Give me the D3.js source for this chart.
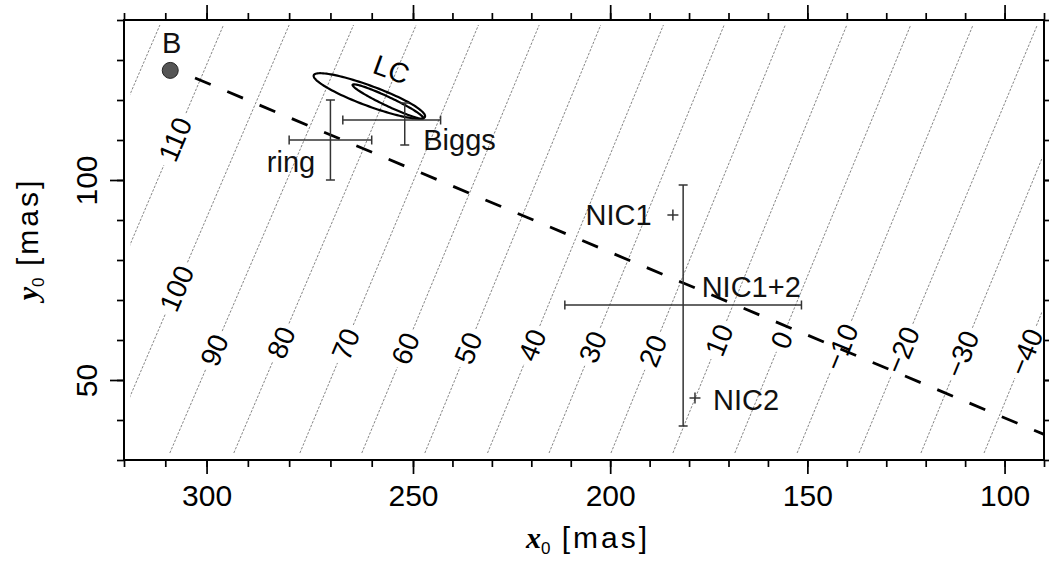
<!DOCTYPE html>
<html><head><meta charset="utf-8">
<script src="https://cdn.jsdelivr.net/npm/d3@7"></script>
<style>
html,body{margin:0;padding:0;background:#fff;}
svg{display:block;}
</style></head>
<body><svg id="c" width="1049" height="562"></svg>
<script>
// ---------------- data ----------------
const xTickLabels = [300, 250, 200, 150, 100];
const yTickLabels = [100, 50];
const xMinorTicks = d3.range(90, 321, 10);
const yMinorTicks = d3.range(30, 141, 10);

// contour lines: x0 where each crosses y0 = contourLowY0 and y0 = contourHighY0
const contourLevels  = [120, 110, 100, 90, 80, 70, 60, 50, 40, 30, 20, 10, 0, -10, -20, -30, -40];
const contourLowY0   = 31.75;
const contourHighY0  = 138.75;
const contourLowX0   = [356.0, 340.0, 324.4, 308.9, 293.4, 277.4, 262.4, 247.0, 231.1, 215.5, 199.8, 184.1, 168.4, 152.6, 136.9, 121.2, 105.2];
const contourHighX0  = [311.3, 295.9, 280.0, 264.4, 249.2, 233.4, 218.0, 202.4, 186.5, 171.1, 155.6, 140.0, 123.8, 108.0, 91.7, 76.6, 60.6];
const contourGridX0  = [318.5, 90.5];
const contourGridY0  = [31.25, 138.75];
// contour labels (level, y0 of label centre)
const labelLevels = [110, 100, 90, 80, 70, 60, 50, 40, 30, 20, 10, 0, -10, -20, -30, -40];
const labelY0     = [110.2, 72.9, 57.5, 59.4, 59.0, 57.9, 58.0, 58.75, 58.3, 57.3, 60.0, 60.0, 58.25, 57.5, 56.5, 57.0];

// dashed line
const dashX0 = [302.8, 90];
const dashY0 = [125.5, 36.4];

// point B
const pointB = [308.8, 127.4];

// LC ellipses: centre, semi axes (mas), angle (deg)
const ellCx = [260.5, 256.0];
const ellCy = [121.0, 119.6];
const ellA  = [14.5, 9.6];
const ellB  = [2.5, 1.1];
const ellAng = [21, 26];

// error-bar crosses: ring, Biggs, NIC1+2
const errX   = [270, 252, 181.5];
const errXlo = [260, 243, 151.5];
const errXhi = [280, 267, 211.5];
const errY   = [110, 115, 68.75];
const errYlo = [100, 108.75, 38.5];
const errYhi = [120, 119.25, 98.75];

// plus markers NIC1, NIC2
const plusX0 = [184.1, 178.5];
const plusY0 = [91.25, 45.5];

// annotations
const annoText   = ["B", "ring", "Biggs", "NIC1", "NIC1+2", "NIC2"];
const annoX0     = [308.45, 273.7, 247.4, 189.5, 176.8, 173.9];
const annoY0     = [131.7, 102.1, 107.5, 88.75, 70.8, 42.5];
const annoAnchor = ["middle", "end", "start", "end", "start", "start"];
const lcLabel = ["LC", 255.2, 127.7, 20];

// ---------------- drawing ----------------
const FONT = "'Liberation Sans', Arial, Helvetica, sans-serif";
const svg = d3.select("#c");
svg.append("rect").attr("width",1049).attr("height",562).attr("fill","#fff");

const x = d3.scaleLinear().domain([320, 250, 90]).range([124, 413, 1044]);
const y = d3.scaleLinear().domain([30, 140]).range([460, 20]);

// clip for contours
svg.append("clipPath").attr("id","cclip").append("rect")
  .attr("x", x(contourGridX0[0])).attr("y", y(contourGridY0[1]))
  .attr("width", x(contourGridX0[1]) - x(contourGridX0[0]))
  .attr("height", y(contourGridY0[0]) - y(contourGridY0[1]));

const gC = svg.append("g").attr("clip-path","url(#cclip)");
const gL = svg.append("g");

contourLevels.forEach((lev, i) => {
  const p0 = [x(contourLowX0[i]), y(contourLowY0)];
  const p1 = [x(contourHighX0[i]), y(contourHighY0)];
  const dx = p1[0]-p0[0], dy = p1[1]-p0[1];
  const len = Math.hypot(dx, dy);
  const ux = dx/len, uy = dy/len;
  const li = labelLevels.indexOf(lev);
  let segs = [[p0, p1]];
  if (li >= 0) {
    const py = y(labelY0[li]);
    const t = (py - p0[1]) / dy;
    const cx = p0[0] + t*dx, cy = py;
    const txt = String(lev).replace("-", "\u2212");
    const tl = txt.length * 0.556 * 28;
    const g = tl/2 + 5;
    segs = [[p0, [cx - ux*g, cy - uy*g]], [[cx + ux*g, cy + uy*g], p1]];
    const ang = Math.atan2(dy, dx) * 180 / Math.PI;
    gL.append("text")
      .attr("transform", `translate(${cx},${cy}) rotate(${ang})`)
      .attr("text-anchor","middle").attr("dy","0.36em")
      .attr("font-family", FONT).attr("font-size", 28).attr("fill","#000")
      .text(txt);
  }
  segs.forEach(s => {
    gC.append("line")
      .attr("x1", s[0][0]).attr("y1", s[0][1]).attr("x2", s[1][0]).attr("y2", s[1][1])
      .attr("stroke", "#777").attr("stroke-width", 0.9).attr("stroke-dasharray", "2.5,1.5");
  });
});

// dashed line
svg.append("line")
  .attr("x1", x(dashX0[0])).attr("y1", y(dashY0[0]))
  .attr("x2", x(dashX0[1])).attr("y2", y(dashY0[1]))
  .attr("stroke","#000").attr("stroke-width",2.8).attr("stroke-dasharray","17,18");

// ellipses
ellCx.forEach((cx, i) => {
  const th = ellAng[i] * Math.PI/180;
  const pts = d3.range(0, 361, 3).map(d => {
    const t = d*Math.PI/180;
    const u = ellA[i]*Math.cos(t), v = ellB[i]*Math.sin(t);
    return [x(cx + u*Math.cos(th) - v*Math.sin(th)), y(ellCy[i] + u*Math.sin(th) + v*Math.cos(th))];
  });
  svg.append("path").attr("d", d3.line()(pts) + "Z")
    .attr("fill","none").attr("stroke","#000").attr("stroke-width",2.2);
});

// error bars
const gE = svg.append("g").attr("stroke","#333").attr("stroke-width",1.5).attr("fill","none");
const cap = 4.5;
errX.forEach((ex, i) => {
  const cx = x(ex), cy = y(errY[i]);
  const xl = x(errXlo[i]), xh = x(errXhi[i]), yl = y(errYlo[i]), yh = y(errYhi[i]);
  gE.append("line").attr("x1",xl).attr("x2",xh).attr("y1",cy).attr("y2",cy);
  gE.append("line").attr("x1",cx).attr("x2",cx).attr("y1",yl).attr("y2",yh);
  [xl, xh].forEach(v => gE.append("line").attr("x1",v).attr("x2",v).attr("y1",cy-cap).attr("y2",cy+cap));
  [yl, yh].forEach(v => gE.append("line").attr("x1",cx-cap).attr("x2",cx+cap).attr("y1",v).attr("y2",v));
});
plusX0.forEach((px, i) => {
  const cx = x(px), cy = y(plusY0[i]), h = 5.5;
  gE.append("line").attr("x1",cx-h).attr("x2",cx+h).attr("y1",cy).attr("y2",cy);
  gE.append("line").attr("x1",cx).attr("x2",cx).attr("y1",cy-h).attr("y2",cy+h);
});

// point B
svg.append("circle").attr("cx", x(pointB[0])).attr("cy", y(pointB[1])).attr("r", 8)
  .attr("fill","#555").attr("stroke","#222").attr("stroke-width",1);

// annotations
annoText.forEach((t, i) => {
  svg.append("text").attr("x", x(annoX0[i])).attr("y", y(annoY0[i]))
    .attr("text-anchor", annoAnchor[i]).attr("font-family", FONT).attr("font-size", 29)
    .attr("fill","#111").text(t);
});
svg.append("text")
  .attr("transform", `translate(${x(lcLabel[1])},${y(lcLabel[2])}) rotate(${lcLabel[3]})`)
  .attr("text-anchor","middle").attr("dy","0.36em")
  .attr("font-family", FONT).attr("font-size", 28).attr("fill","#000").text(lcLabel[0]);

// axes
function styleAxis(g) {
  g.select(".domain").remove();
  g.selectAll(".tick line").attr("stroke","#000").attr("stroke-width",1.7);
  g.attr("font-family", FONT).attr("font-size", 30);
  g.selectAll(".tick text").attr("fill","#000");
}
const B = y(30), T = y(140), Lx = x(320), Rx = x(90);
svg.append("g").attr("transform",`translate(0,${B})`)
  .call(d3.axisBottom(x).tickValues(xMinorTicks).tickSize(7).tickFormat("")).call(styleAxis);
svg.append("g").attr("transform",`translate(0,${B})`)
  .call(d3.axisBottom(x).tickValues(xTickLabels).tickSize(14).tickPadding(11).tickFormat(d3.format("d"))).call(styleAxis);
svg.append("g").attr("transform",`translate(0,${T})`)
  .call(d3.axisTop(x).tickValues(xMinorTicks).tickSize(7).tickFormat("")).call(styleAxis);
svg.append("g").attr("transform",`translate(0,${T})`)
  .call(d3.axisTop(x).tickValues(xTickLabels).tickSize(15).tickFormat("")).call(styleAxis);
svg.append("g").attr("transform",`translate(${Lx},0)`)
  .call(d3.axisLeft(y).tickValues(yMinorTicks).tickSize(7).tickFormat("")).call(styleAxis);
const gyl = svg.append("g").attr("transform",`translate(${Lx},0)`)
  .call(d3.axisLeft(y).tickValues(yTickLabels).tickSize(14).tickFormat(d3.format("d"))).call(styleAxis);
gyl.selectAll(".tick text").attr("x",0).attr("dy",null).attr("text-anchor","middle")
  .attr("transform","translate(-27,0) rotate(-90)");
svg.append("g").attr("transform",`translate(${Rx},0)`)
  .call(d3.axisRight(y).tickValues(yMinorTicks).tickSize(7).tickFormat("")).call(styleAxis);
svg.append("g").attr("transform",`translate(${Rx},0)`)
  .call(d3.axisRight(y).tickValues(yTickLabels).tickSize(14).tickFormat("")).call(styleAxis);

// frame
svg.append("rect").attr("x",Lx).attr("y",T).attr("width",Rx-Lx).attr("height",B-T)
  .attr("fill","none").attr("stroke","#000").attr("stroke-width",2);

// axis titles
function title(sel, v) {
  sel.attr("font-family", FONT).attr("font-size", 30).attr("fill","#000").attr("text-anchor","middle");
  sel.append("tspan").attr("font-family","'Liberation Serif','Times New Roman',serif")
    .attr("font-weight","bold").attr("font-style","italic").text(v);
  sel.append("tspan").attr("font-size",17).attr("dy",6).text("0");
  sel.append("tspan").attr("dy",-6).attr("letter-spacing",3).text(" [mas]");
}
title(svg.append("text").attr("x", (Lx+Rx)/2 + 4).attr("y", 548), "x");
title(svg.append("text").attr("transform", `translate(38,${(T+B)/2 - 1}) rotate(-90)`), "y");
</script>
</body></html>
